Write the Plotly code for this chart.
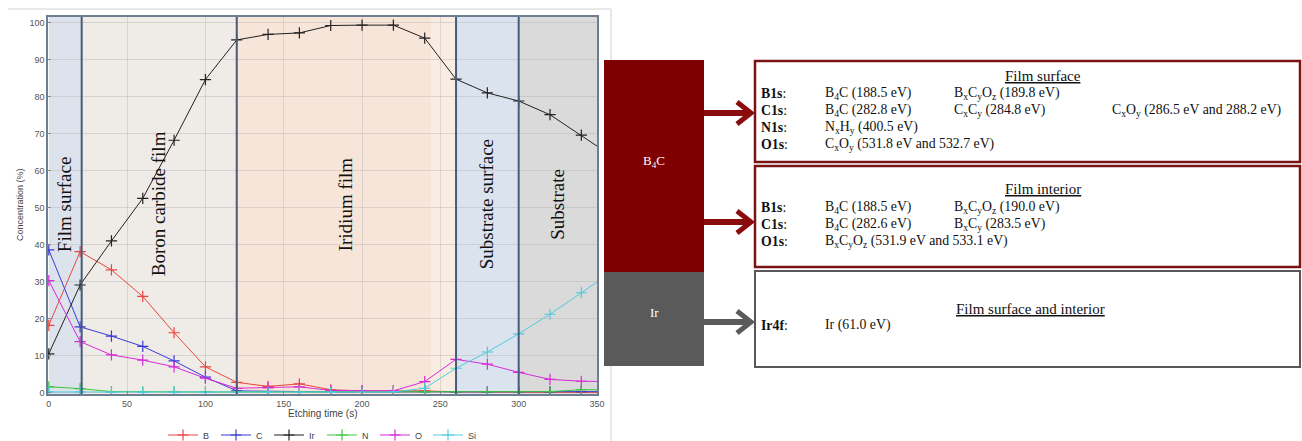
import plotly.graph_objects as go

FIG_W, FIG_H = 1302, 441

# ---- XPS depth profile: concentration (%) vs etching time (s) ----
etch_time = [0, 20, 40, 60, 80, 100, 120, 140, 160, 180, 200, 220, 240, 260, 280, 300, 320, 340, 360]
conc_b = [18.2, 38.1, 33.2, 26.0, 16.2, 7.0, 2.8, 1.7, 2.4, 0.8, 0.5, 0.5, 0.5, 0.2, 0.1, 0.1, 0.1, 0.1, 0.1]
conc_c = [38.6, 17.8, 15.3, 12.5, 8.6, 4.2, 0.5, 0.3, 0.3, 0.2, 0.2, 0.2, 0.3, 0.2, 0.2, 0.2, 0.2, 0.3, 0.3]
conc_ir = [10.5, 29.1, 41.0, 52.5, 68.2, 84.6, 95.3, 96.8, 97.2, 99.2, 99.3, 99.3, 95.8, 84.7, 81.0, 78.8, 75.1, 69.6, 63.8]
conc_n = [1.6, 1.1, 0.3, 0.2, 0.2, 0.2, 0.2, 0.2, 0.2, 0.2, 0.2, 0.2, 0.2, 0.2, 0.2, 0.2, 0.3, 0.8, 0.8]
conc_o = [30.3, 13.8, 10.2, 8.8, 7.0, 3.9, 1.2, 1.3, 1.6, 0.6, 0.5, 0.5, 3.0, 9.0, 7.7, 5.5, 3.6, 3.1, 3.0]
conc_si = [0.2, 0.2, 0.1, 0.1, 0.1, 0.1, 0.1, 0.1, 0.1, 0.1, 0.1, 0.2, 1.2, 6.6, 11.0, 15.9, 21.2, 27.0, 32.8]

element_names = ["B", "C", "Ir", "N", "O", "Si"]
element_values = [conc_b, conc_c, conc_ir, conc_n, conc_o, conc_si]
element_colors = ["#e8473f", "#3b3bd4", "#222222", "#3cc43c", "#d82ad8", "#52cadb"]

# layers along the profile
layer_edges = [0, 21, 120, 260, 300, 350]
layer_names = ["Film surface", "Boron carbide film", "Iridium film", "Substrate surface", "Substrate"]
layer_fills = ["#dde3ec", "#efebe7", "#f8e5da", "#dae3ee", "#dadada"]

x_ticks = [0, 50, 100, 150, 200, 250, 300, 350]
y_ticks = [0, 10, 20, 30, 40, 50, 60, 70, 80, 90, 100]

# ---- chemical-state summary ----
box1_title = "Film surface"
box1_rows = [
    ("B1s", ["B<sub>4</sub>C (188.5 eV)", "B<sub>x</sub>C<sub>y</sub>O<sub>z</sub> (189.8 eV)", ""]),
    ("C1s", ["B<sub>4</sub>C (282.8 eV)", "C<sub>x</sub>C<sub>y</sub> (284.8 eV)",
             "C<sub>x</sub>O<sub>y</sub> (286.5 eV and 288.2 eV)"]),
    ("N1s", ["N<sub>x</sub>H<sub>y</sub> (400.5 eV)", "", ""]),
    ("O1s", ["C<sub>x</sub>O<sub>y</sub> (531.8 eV and 532.7 eV)", "", ""]),
]
box2_title = "Film interior"
box2_rows = [
    ("B1s", ["B<sub>4</sub>C (188.5 eV)", "B<sub>x</sub>C<sub>y</sub>O<sub>z</sub> (190.0 eV)", ""]),
    ("C1s", ["B<sub>4</sub>C (282.6 eV)", "B<sub>x</sub>C<sub>y</sub> (283.5 eV)", ""]),
    ("O1s", ["B<sub>x</sub>C<sub>y</sub>O<sub>z</sub> (531.9 eV and 533.1 eV)", "", ""]),
]
box3_title = "Film surface and interior"
box3_rows = [
    ("Ir4f", ["Ir (61.0 eV)", "", ""]),
]


def px(x):
    return x / FIG_W


def py(y):
    return 1 - y / FIG_H


fig = go.Figure()

for name, vals, col in zip(element_names, element_values, element_colors):
    fig.add_trace(go.Scatter(
        x=etch_time, y=vals, name=name, mode="lines+markers",
        line=dict(color=col, width=1),
        marker=dict(symbol="cross-thin", size=8, line=dict(color=col, width=1.2)),
        cliponaxis=True,
    ))

shapes = []
annotations = []

# layer shading
for i, fill in enumerate(layer_fills):
    shapes.append(dict(type="rect", xref="x", yref="y domain", layer="below",
                       x0=layer_edges[i], x1=layer_edges[i + 1], y0=0, y1=1,
                       fillcolor=fill, line=dict(width=0)))
# paler strip where the iridium layer fades out
shapes.append(dict(type="rect", xref="x", yref="y domain", layer="below",
                   x0=244, x1=layer_edges[3], y0=0, y1=1,
                   fillcolor="#f8ece3", line=dict(width=0)))
# layer boundaries
for edge in layer_edges[1:-1]:
    shapes.append(dict(type="line", xref="x", yref="y domain", layer="above",
                       x0=edge, x1=edge, y0=0, y1=1,
                       line=dict(color="#475c7c", width=2)))
# layer labels
for i, name in enumerate(layer_names):
    annotations.append(dict(
        x=(layer_edges[i] + layer_edges[i + 1]) / 2, y=51, xref="x", yref="y",
        text=name, textangle=-90, showarrow=False, xanchor="center", yanchor="middle",
        font=dict(family="Liberation Serif", size=19, color="#111111")))

# axis titles
annotations.append(dict(x=px(20), y=py(205), xref="paper", yref="paper",
                        text="Concentration (%)", textangle=-90, showarrow=False,
                        xanchor="center", yanchor="middle",
                        font=dict(family="Liberation Sans", size=9, color="#444444")))
annotations.append(dict(x=px(322), y=py(413), xref="paper", yref="paper",
                        text="Etching time (s)", showarrow=False,
                        xanchor="center", yanchor="middle",
                        font=dict(family="Liberation Sans", size=10, color="#444444")))

# light frame around the profile panel
shapes.append(dict(type="line", xref="paper", yref="paper",
                   x0=px(8), x1=px(611), y0=py(9), y1=py(9),
                   line=dict(color="#d2d2d2", width=1)))
shapes.append(dict(type="line", xref="paper", yref="paper",
                   x0=px(611), x1=px(611), y0=py(9), y1=py(441),
                   line=dict(color="#d2d2d2", width=1)))

# ---- right-hand diagram ----
B4C_RED = "#7e0000"
IR_GRAY = "#5a5a5a"
ARROW_RED = "#8a0c0c"

shapes.append(dict(type="rect", xref="paper", yref="paper",
                   x0=px(604), x1=px(704), y0=py(272), y1=py(60),
                   fillcolor=B4C_RED, line=dict(width=0)))
shapes.append(dict(type="rect", xref="paper", yref="paper",
                   x0=px(604), x1=px(704), y0=py(366), y1=py(272),
                   fillcolor=IR_GRAY, line=dict(width=0)))
annotations.append(dict(x=px(654), y=py(162), xref="paper", yref="paper",
                        text="B<sub>4</sub>C", showarrow=False,
                        font=dict(family="Liberation Serif", size=13, color="white")))
annotations.append(dict(x=px(654), y=py(322), xref="paper", yref="paper",
                        text="Ir", showarrow=False,
                        font=dict(family="Liberation Serif", size=13, color="white")))


def add_arrow(yc, color):
    shapes.append(dict(type="path", xref="paper", yref="paper",
                       path=f"M {px(704)},{py(yc)} L {px(748)},{py(yc)}",
                       line=dict(color=color, width=6)))
    shapes.append(dict(type="path", xref="paper", yref="paper",
                       path=(f"M {px(737)},{py(yc - 11)} L {px(751)},{py(yc)} "
                             f"L {px(737)},{py(yc + 11)}"),
                       line=dict(color=color, width=5)))


add_arrow(113, ARROW_RED)
add_arrow(222, ARROW_RED)
add_arrow(322, IR_GRAY)

info_boxes = [
    (61, 162, "#7a1414", 2.5, box1_title, 76, box1_rows, 93),
    (166, 267, "#7a1414", 2.5, box2_title, 189, box2_rows, 207),
    (271, 367, "#575757", 2, box3_title, 309, box3_rows, 325),
]
col_x = [759, 823, 952, 1110]
row_step = 17.3
body_size = 13.8
for top, bottom, edge, lw, title, title_y, rows, row0 in info_boxes:
    shapes.append(dict(type="rect", xref="paper", yref="paper",
                       x0=px(755), x1=px(1300), y0=py(bottom), y1=py(top),
                       fillcolor="white", line=dict(color=edge, width=lw)))
    title_x = 1030 if title == box3_title else 1043
    annotations.append(dict(x=px(title_x), y=py(title_y), xref="paper", yref="paper",
                            text=f"<u>{title}</u>", showarrow=False,
                            xanchor="center", yanchor="middle",
                            font=dict(family="Liberation Serif", size=15, color="#111111")))
    for r, (orb, cells) in enumerate(rows):
        yy = row0 + r * row_step
        annotations.append(dict(x=px(col_x[0]), y=py(yy), xref="paper", yref="paper",
                                text=f"<b>{orb}</b>:", showarrow=False,
                                xanchor="left", yanchor="middle",
                                font=dict(family="Liberation Serif", size=body_size,
                                          color="#111111")))
        for c, cell in enumerate(cells):
            if cell:
                annotations.append(dict(x=px(col_x[c + 1]), y=py(yy), xref="paper", yref="paper",
                                        text=cell, showarrow=False,
                                        xanchor="left", yanchor="middle",
                                        font=dict(family="Liberation Serif", size=body_size,
                                                  color="#111111")))

fig.update_layout(
    width=FIG_W, height=FIG_H,
    margin=dict(l=0, r=0, t=0, b=0, autoexpand=False),
    paper_bgcolor="white", plot_bgcolor="white",
    shapes=shapes, annotations=annotations,
    showlegend=True,
    legend=dict(orientation="h", x=px(322), y=py(435), xanchor="center", yanchor="middle",
                font=dict(family="Liberation Sans", size=9, color="#444444"),
                itemwidth=30, entrywidth=8, tracegroupgap=0, bgcolor="rgba(0,0,0,0)"),
    xaxis=dict(domain=[px(48), px(597)], range=[-0.5, 350], tickvals=x_ticks,
               showgrid=True, gridcolor="rgba(170,170,170,0.35)", gridwidth=1,
               zeroline=False, showline=True, linecolor="#6f7d92", linewidth=1.5, mirror=True,
               ticks="inside", ticklen=3, tickcolor="#8a8a8a",
               tickfont=dict(family="Liberation Sans", size=9, color="#555555")),
    yaxis=dict(domain=[py(394), py(17)], range=[-0.35, 101.5], tickvals=y_ticks,
               showgrid=True, gridcolor="rgba(170,170,170,0.35)", gridwidth=1,
               zeroline=False, showline=True, linecolor="#6f7d92", linewidth=1.5, mirror=True,
               ticks="inside", ticklen=3, tickcolor="#8a8a8a",
               tickfont=dict(family="Liberation Sans", size=9, color="#555555")),
)

fig.write_html("out.html")
